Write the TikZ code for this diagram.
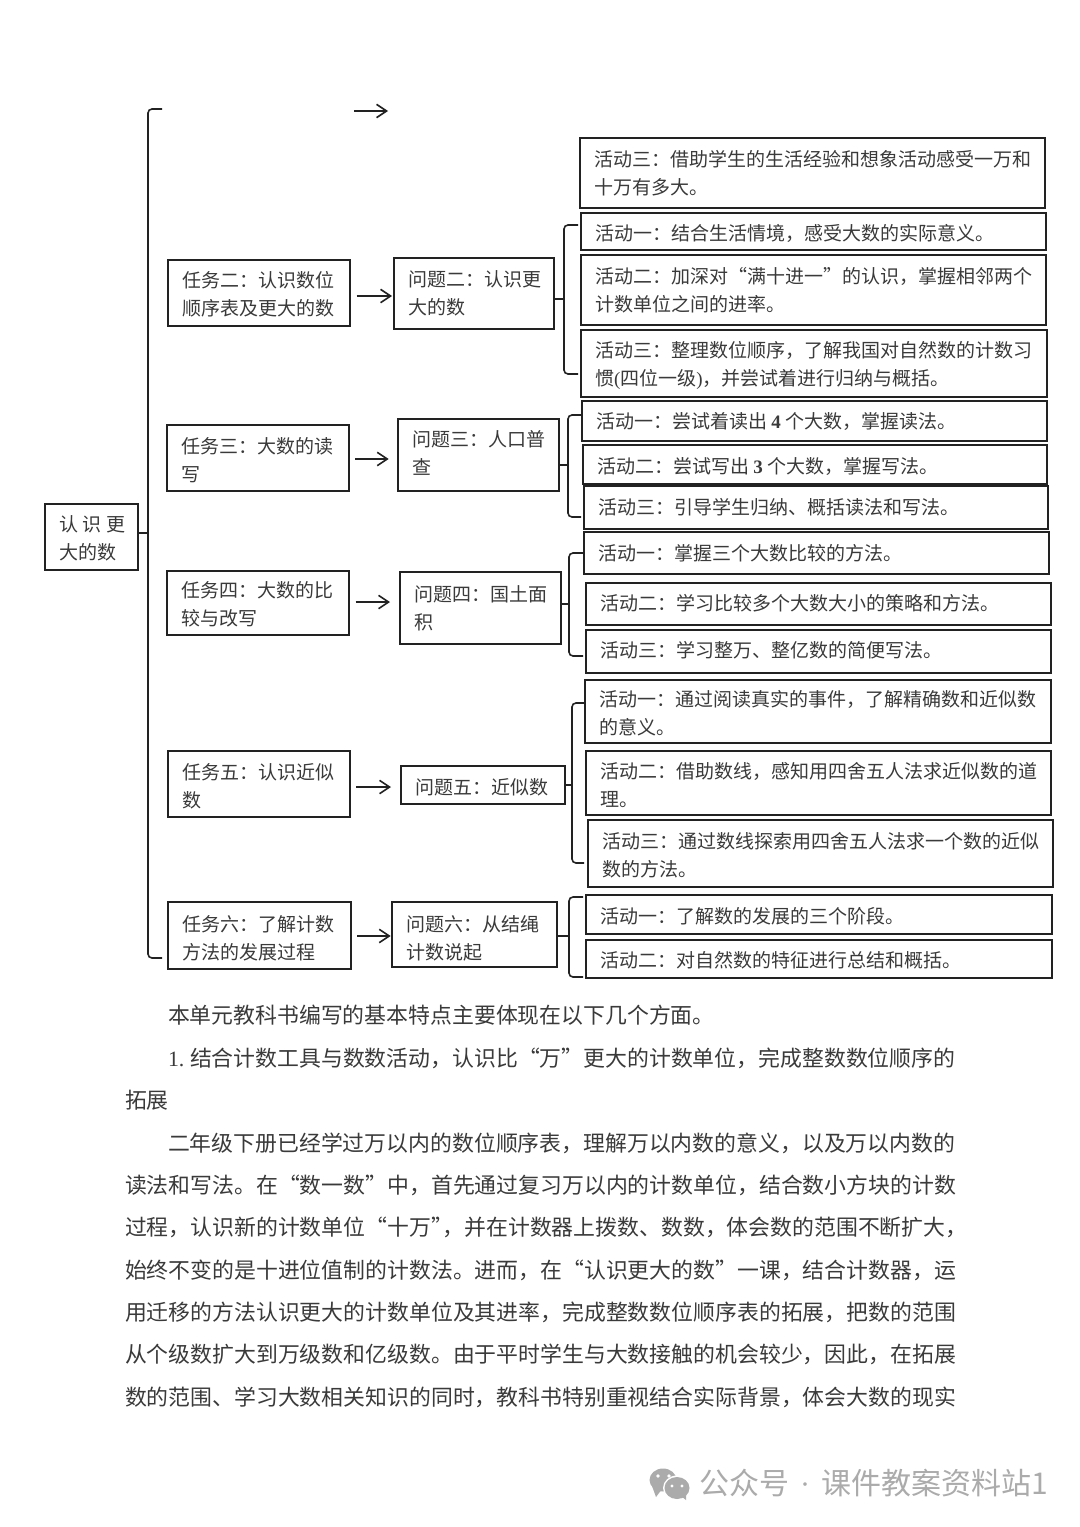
\documentclass[tikz,border=0pt]{standalone}
\usepackage{fontspec}
\setmainfont{Noto Sans CJK SC}
\newfontfamily\lat{Liberation Serif}
\usetikzlibrary{arrows.meta,calc}
\definecolor{ink}{HTML}{222222}
\definecolor{txt}{HTML}{3A3A3A}
\definecolor{wm}{HTML}{ABABAB}
\tikzset{
  x=0.75pt,y=-0.75pt,
  boxstyle/.style={draw=ink,line width=1.1pt,inner sep=0pt,outer sep=0pt,text=txt,font=\fontsize{14.25}{21}\selectfont},
  arr/.style={draw=ink,line width=1.4pt,-{Straight Barb[length=7.5pt,width=10pt,line width=1.2pt]}},
  bracestyle/.style={draw=ink,line width=1.2pt,rounded corners=3pt},
  ticks/.style={draw=ink,line width=1.4pt},
  bodyline/.style={inner sep=0pt,outer sep=0pt,anchor=base west,text=txt,font=\fontsize{16.4}{20}\selectfont},
  wmstyle/.style={inner sep=0pt,outer sep=0pt,anchor=west,text=wm,font=\fontsize{22.5}{24}\selectfont},
}
% [text shift], name, x1,y1,x2,y2, text
\newcommand{\bx}[7][0]{%
  \pgfmathsetmacro\bxw{(#5-#3)*0.75}%
  \pgfmathsetmacro\bxh{(#6-#4)*0.75}%
  \pgfmathsetmacro\bxt{(#5-#3-28)*0.75}%
  \pgfmathsetmacro\bxs{-3.5-#1*0.75}%
  \node[boxstyle,minimum width=\bxw pt,minimum height=\bxh pt] (#2) at ({(#3+#5)/2},{(#4+#6)/2}) {\raisebox{\bxs pt}[0pt][0pt]{\parbox[c]{\bxt pt}{#7}}};}
% name, source node, spine x, end x, top, bottom, mid
\newcommand{\brk}[7]{%
  \coordinate (#1t) at (#4,#5);
  \coordinate (#1b) at (#4,#6);
  \coordinate (#1m) at (#3,#7);
  \draw[bracestyle] (#1t) -| (#1m) |- (#1b);
  \draw[ticks] (#2.east |- #1m) -- (#1m);}
\begin{document}
\begin{tikzpicture}
\useasboundingbox (0,0) rectangle (1080,1527);
\fill[white] (0,0) rectangle (1080,1527);

\bx[1]{root}{45}{504}{138}{570}{\mbox{认\hspace{3.6pt}识\hspace{3.6pt}更}\\大的数}

\bx[1]{t2}{168}{260}{350}{326}{任务二：认识数位\\顺序表及更大的数}
\bx{q2}{394}{258}{554}{329}{问题二：认识更\\大的数}
\bx[2]{t3}{167}{425}{349}{491}{任务三：大数的读\\写}
\bx[-2]{q3}{398}{419}{559}{491}{问题三：人口普\\查}
\bx[1]{t4}{167}{571}{349}{635}{任务四：大数的比\\较与改写}
\bx{q4}{400}{572}{561}{644}{问题四：国土面\\积}
\bx[2]{t5}{168}{751}{350}{817}{任务五：认识近似\\数}
\bx[2]{q5}{401}{766}{565}{804}{问题五：近似数}
\bx[3]{t6}{168}{902}{351}{969}{任务六：了解计数\\方法的发展过程}
\bx[4]{q6}{392}{902}{557}{967}{问题六：从结绳\\计数说起}

\bx{a0}{580}{138}{1045}{208}{活动三：借助学生的生活经验和想象活动感受一万和\\十万有多大。}
\bx[2]{a21}{581}{213}{1046}{250}{活动一：结合生活情境，感受大数的实际意义。}
\bx{a22}{581}{255}{1046}{325}{活动二：加深对“满十进一”的认识，掌握相邻两个\\计数单位之间的进率。}
\bx[2]{a23}{581}{330}{1047}{397}{活动三：整理数位顺序，了解我国对自然数的计数习\\惯{\lat (}四位一级{\lat )}，并尝试着进行归纳与概括。}
\bx[1]{a31}{582}{401}{1047}{441}{活动一：尝试着读出 {\lat\bfseries 4} 个大数，掌握读法。}
\bx[2]{a32}{583}{445}{1047}{484}{活动二：尝试写出 {\lat\bfseries 3} 个大数，掌握写法。}
\bx{a33}{584}{486}{1048}{529}{活动三：引导学生归纳、概括读法和写法。}
\bx{a41}{584}{532}{1049}{574}{活动一：掌握三个大数比较的方法。}
\bx[-1]{a42}{586}{583}{1051}{625}{活动二：学习比较多个大数大小的策略和方法。}
\bx[-1]{a43}{586}{630}{1051}{673}{活动三：学习整万、整亿数的简便写法。}
\bx[2]{a51}{585}{680}{1051}{743}{活动一：通过阅读真实的事件，了解精确数和近似数\\的意义。}
\bx[2]{a52}{586}{751}{1051}{815}{活动二：借助数线，感知用四舍五人法求近似数的道\\理。}
\bx[2]{a53}{588}{820}{1053}{887}{活动三：通过数线探索用四舍五人法求一个数的近似\\数的方法。}
\bx[2]{a61}{586}{895}{1052}{934}{活动一：了解数的发展的三个阶段。}
\bx[1]{a62}{586}{940}{1052}{978}{活动二：对自然数的特征进行总结和概括。}

\brk{bm}{root}{148}{162}{109}{958}{533}
\brk{b2}{q2}{564}{578}{225}{374}{299}
\brk{b3}{q3}{568}{581}{415}{517}{465}
\brk{b4}{q4}{569}{583}{553}{656}{604}
\brk{b5}{q5}{572}{584}{703}{863}{785}
\brk{b6}{q6}{569}{583}{897}{977}{936}

\coordinate (a1s) at (354,111);
\coordinate (a1e) at (388,111);
\draw[arr] (a1s) -- (a1e);
\coordinate (a2y) at (0,296);
\coordinate (a3y) at (0,459);
\coordinate (a4y) at (0,602);
\coordinate (a5y) at (0,787);
\coordinate (a6y) at (0,936);
\draw[arr,shorten <=5pt,shorten >=1.5pt] (t2.east |- a2y) -- (q2.west |- a2y);
\draw[arr,shorten <=4.5pt,shorten >=7pt] (t3.east |- a3y) -- (q3.west |- a3y);
\draw[arr,shorten <=5pt,shorten >=7.5pt] (t4.east |- a4y) -- (q4.west |- a4y);
\draw[arr,shorten <=4.5pt,shorten >=7.5pt] (t5.east |- a5y) -- (q5.west |- a5y);
\draw[arr,shorten <=4.5pt,shorten >=1pt] (t6.east |- a6y) -- (q6.west |- a6y);

\node[bodyline] (l1) at (168,1023) {本单元教科书编写的基本特点主要体现在以下几个方面。};
\node[bodyline] (l2) at (168,1066) {{\lat 1.}\hspace{4.2pt}结合计数工具与数数活动，认识比“万”更大的计数单位，完成整数数位顺序的};
\node[bodyline] (l3) at (125,1108) {拓展};
\node[bodyline] (l4) at (168,1151) {二年级下册已经学过万以内的数位顺序表，理解万以内数的意义，以及万以内数的};
\node[bodyline] (l5) at (125,1193) {读法和写法。在“数一数”中，首先通过复习万以内的计数单位，结合数小方块的计数};
\node[bodyline] (l6) at (125,1235) {过程，认识新的计数单位“十万”\hspace{-7.8pt}，并在计数器上拨数、数数，体会数的范围不断扩大，};
\node[bodyline] (l7) at (125,1278) {始终不变的是十进位值制的计数法。进而，在“认识更大的数”一课，结合计数器，运};
\node[bodyline] (l8) at (125,1320) {用迁移的方法认识更大的计数单位及其进率，完成整数数位顺序表的拓展，把数的范围};
\node[bodyline] (l9) at (125,1362) {从个级数扩大到万级数和亿级数。由于平时学生与大数接触的机会较少，因此，在拓展};
\node[bodyline] (l10) at (125,1405) {数的范围、学习大数相关知识的同时，教科书特别重视结合实际背景，体会大数的现实};

% watermark
\fill[wm] (663,1480) ellipse (13.5 and 11.5);
\fill[wm] (652,1486) -- (656,1497) -- (662,1489) -- cycle;
\fill[white] (677,1488) ellipse (14 and 12.5);
\fill[wm] (677,1488) ellipse (12.5 and 11);
\fill[wm] (681,1496) -- (686,1500) -- (686,1492) -- cycle;
\fill[white] (658,1476) circle (1.8) (669,1476) circle (1.8) (672,1486) circle (1.6) (682,1486) circle (1.6);
\node[wmstyle] (wmtext) at (699,1483) {公众号\hspace{8.4pt}{\lat ·}\hspace{8.4pt}课件教案资料站1};
\end{tikzpicture}
\end{document}
